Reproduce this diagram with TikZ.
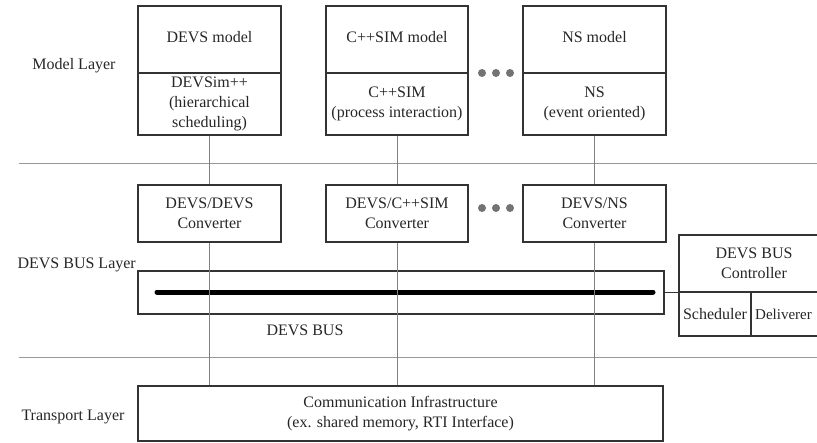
\documentclass[tikz,border=0pt]{standalone}
\usepackage{fontspec}
\setmainfont{Liberation Serif}
\begin{document}
\begin{tikzpicture}[x=1pt,y=-1pt,
  box/.style={draw=black!80, line width=1.2pt, rectangle, inner sep=0pt, text=black!85, align=center, font=\fontsize{16}{20}\selectfont},
  lbl/.style={text=black!85, inner sep=0pt, font=\fontsize{16}{20}\selectfont},
  conn/.style={draw=black!50, line width=0.9pt},
  sep/.style={draw=black!40, line width=1pt},
  dot/.style={circle, fill=black!55, minimum size=8pt, inner sep=0pt}]
\useasboundingbox (0,0) rectangle (817,442);
\clip (0,0) rectangle (817,442);
% layer separators
\draw[sep] (19,163) -- (817,163);
\draw[sep] (19,357) -- (817,357);
% layer labels
\node[lbl] (lmodel) at (74,66) {Model Layer};
\node[lbl, anchor=east] (lbus) at (136,265) {DEVS BUS Layer};
\node[lbl] (ltrans) at (73,417) {Transport Layer};
% model boxes
\node[box, minimum width=143pt, minimum height=67pt] (m1t) at (209.5,39.5) {DEVS model\\[-14pt]};
\node[box, minimum width=143pt, minimum height=62pt] (m1b) at (209.5,104) {DEVSim++\\(hierarchical\\scheduling)};
\node[box, minimum width=142pt, minimum height=67pt] (m2t) at (397,39.5) {C++SIM model\\[-14pt]};
\node[box, minimum width=142pt, minimum height=62pt] (m2b) at (397,104) {C++SIM\\(process interaction)};
\node[box, minimum width=143pt, minimum height=67pt] (m3t) at (594.5,39.5) {NS model\\[-14pt]};
\node[box, minimum width=143pt, minimum height=62pt] (m3b) at (594.5,104) {NS\\(event oriented)};
% converters
\node[box, minimum width=143pt, minimum height=57pt] (c1) at (209.5,213.5) {DEVS/DEVS\\Converter};
\node[box, minimum width=142pt, minimum height=57pt] (c2) at (397,213.5) {DEVS/C++SIM\\Converter};
\node[box, minimum width=143pt, minimum height=57pt] (c3) at (594.5,213.5) {DEVS/NS\\Converter};
% dots
\node[dot] (d1) at (482,73) {}; \node[dot] (d2) at (496,73) {}; \node[dot] (d3) at (510,73) {};
\node[dot] (e1) at (482,208) {}; \node[dot] (e2) at (496,208) {}; \node[dot] (e3) at (510,208) {};
% bus
\node[box, minimum width=526pt, minimum height=43pt] (bus) at (401,292.5) {};
\coordinate (bl) at (157,292);
\coordinate (br) at (653,292);
\draw[line width=5pt, line cap=round, black] (bl) -- (br);
\node[lbl] (buslbl) at (305,330) {DEVS BUS};
% communication
\node[box, minimum width=525pt, minimum height=55pt] (comm) at (400.5,413.5) {Communication Infrastructure\\(ex. shared memory, RTI Interface)};
% controller
\node[box, minimum width=150pt, minimum height=57pt] (ct) at (754,263.5) {DEVS BUS\\Controller};
\node[box, minimum width=72pt, minimum height=44pt] (cs) at (715,314) {Scheduler};
\node[box, minimum width=78pt, minimum height=44pt, anchor=west] (cd) at (751,314) {};
\node[lbl, anchor=west, font=\fontsize{15}{18}\selectfont] (cdt) at (755,314) {Deliverer};
% connectors
\draw[conn] (m1b.south) -- (c1.north);
\draw[conn] (m2b.south) -- (c2.north);
\draw[conn] (m3b.south) -- (c3.north);
\draw[conn] (c1.south) -- (c1.south |- comm.north);
\draw[conn] (c2.south) -- (c2.south |- comm.north);
\draw[conn] (c3.south) -- (c3.south |- comm.north);
\draw[draw=black!80, line width=1.2pt] (bus.east) -- (ct.south west |- bus.east);
\end{tikzpicture}
\end{document}
